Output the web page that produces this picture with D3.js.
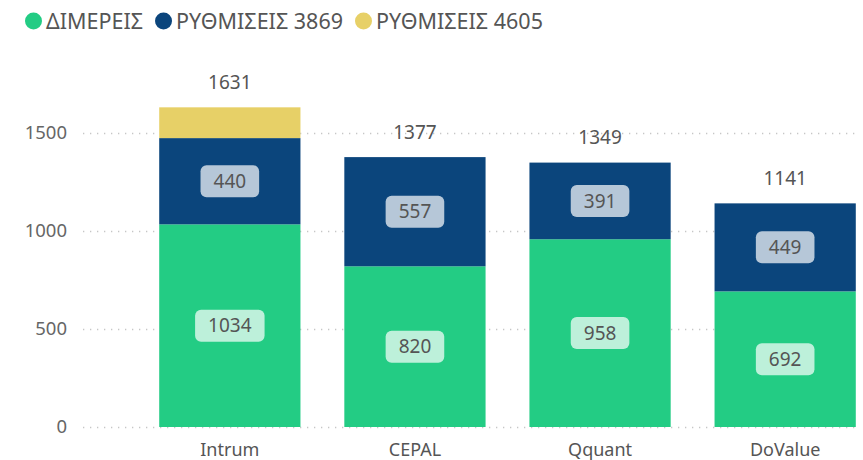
<!DOCTYPE html>
<html>
<head>
<meta charset="utf-8">
<script src="https://cdn.jsdelivr.net/npm/d3@7"></script>
<style>
  body { margin: 0; background: #fff; }
  text { font-family: "Noto Sans", "Open Sans", sans-serif; }
</style>
</head>
<body>
<svg id="chart" width="863" height="460"></svg>
<script>
// data
var companies = ["Intrum", "CEPAL", "Qquant", "DoValue"];
var dimereis = [1034, 820, 958, 692];
var rythmiseis3869 = [440, 557, 391, 449];
var rythmiseis4605 = [157, 0, 0, 0];
var seriesNames = ["ΔΙΜΕΡΕΙΣ", "ΡΥΘΜΙΣΕΙΣ 3869", "ΡΥΘΜΙΣΕΙΣ 4605"];
var seriesColors = ["#23cc84", "#0b457c", "#e7d067"];
var yTicks = [0, 500, 1000, 1500];

var svg = d3.select("#chart");

// build table for the stack
var rows = companies.map(function(c, i) {
    return {name: c, s0: dimereis[i], s1: rythmiseis3869[i], s2: rythmiseis4605[i]};
});
var stack = d3.stack().keys(["s0", "s1", "s2"])(rows);

var x = d3.scaleBand()
    .domain(companies)
    .range([137, 878])
    .paddingInner(0.237)
    .paddingOuter(0.12);

var y = d3.scaleLinear()
    .domain([0, 1500])
    .range([427, 133]);

// gridlines
svg.append("g")
    .selectAll("line")
    .data(yTicks)
    .join("line")
    .attr("x1", 83)
    .attr("x2", 860)
    .attr("y1", function(d) { return y(d) + 0.5; })
    .attr("y2", function(d) { return y(d) + 0.5; })
    .attr("stroke", "#c6c6c6")
    .attr("stroke-width", 1.3)
    .attr("stroke-dasharray", "1.3,5.7");

// y axis labels
var yAxis = svg.append("g")
    .attr("transform", "translate(67,0)")
    .call(d3.axisLeft(y).tickValues(yTicks).tickFormat(d3.format("d")).tickSize(0).tickPadding(0));
yAxis.select(".domain").remove();
yAxis.selectAll("text")
    .attr("fill", "#666")
    .style("font-size", "18.5px");

// x axis labels
var xAxis = svg.append("g")
    .attr("transform", "translate(0,443)")
    .call(d3.axisBottom(x).tickSize(0).tickPadding(0));
xAxis.select(".domain").remove();
xAxis.selectAll("text")
    .attr("fill", "#555")
    .style("font-size", "18px");

// bars
var layers = svg.append("g")
    .selectAll("g")
    .data(stack)
    .join("g")
    .attr("fill", function(d, i) { return seriesColors[i]; });

layers.selectAll("rect")
    .data(function(d) { return d; })
    .join("rect")
    .attr("x", function(d) { return x(d.data.name); })
    .attr("y", function(d) { return y(d[1]); })
    .attr("width", x.bandwidth())
    .attr("height", function(d) { return y(d[0]) - y(d[1]); });

// segment labels in rounded boxes
var labels = svg.append("g");
stack.forEach(function(layer) {
    layer.forEach(function(d) {
        var v = d[1] - d[0];
        var h = y(d[0]) - y(d[1]);
        if (v == 0 || h < 40) return;
        var cx = x(d.data.name) + x.bandwidth() / 2;
        var cy = (y(d[0]) + y(d[1])) / 2;
        var g = labels.append("g").attr("transform", "translate(" + cx + "," + cy + ")");
        var t = g.append("text")
            .attr("text-anchor", "middle")
            .attr("dy", "0.35em")
            .attr("fill", "#555")
            .style("font-size", "19px")
            .text(v);
        var w = t.node().getComputedTextLength() + 26;
        g.insert("rect", "text")
            .attr("x", -w / 2)
            .attr("y", -16)
            .attr("width", w)
            .attr("height", 32)
            .attr("rx", 6)
            .attr("fill", "#fff")
            .attr("fill-opacity", 0.7);
    });
});

// totals above bars
svg.append("g")
    .selectAll("text")
    .data(rows)
    .join("text")
    .attr("x", function(d) { return x(d.name) + x.bandwidth() / 2; })
    .attr("y", function(d) { return y(d.s0 + d.s1 + d.s2) - 25; })
    .attr("dy", "0.35em")
    .attr("text-anchor", "middle")
    .attr("fill", "#555")
    .style("font-size", "19px")
    .text(function(d) { return d.s0 + d.s1 + d.s2; });

// legend
var legend = svg.append("g").attr("transform", "translate(0,21)");
var lx = 25;
seriesNames.forEach(function(name, i) {
    legend.append("circle")
        .attr("cx", lx + 8.5)
        .attr("cy", 0)
        .attr("r", 8.5)
        .attr("fill", seriesColors[i]);
    var t = legend.append("text")
        .attr("x", lx + 21)
        .attr("dy", "0.36em")
        .attr("fill", "#555")
        .style("font-size", "21.5px")
        .text(name);
    lx = lx + 21 + t.node().getComputedTextLength() + 12;
});
</script>
</body>
</html>
